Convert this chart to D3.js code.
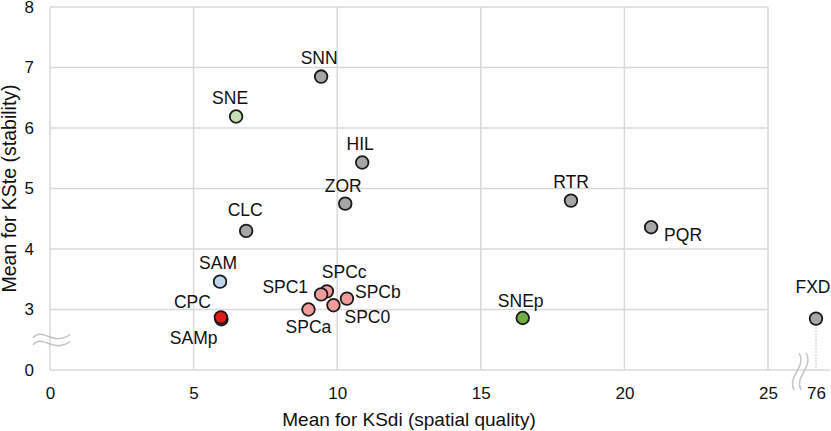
<!DOCTYPE html>
<html>
<head>
<meta charset="utf-8">
<script src="https://cdn.jsdelivr.net/npm/d3@7"></script>
<style>
  body { margin: 0; background: #fff; }
  text { font-family: "Liberation Sans", Arial, sans-serif; fill: #111; }
</style>
</head>
<body>
<svg></svg>
<script>
var w = 831;
var h = 431;

// data
var names  = ["SNN", "SNE", "HIL", "ZOR", "CLC", "RTR", "PQR", "SAM", "SAMp", "CPC", "SPCc", "SPC1", "SPCb", "SPC0", "SPCa", "SNEp", "FXD"];
var xVals  = [9.44, 6.48, 10.87, 10.28, 6.83, 18.14, 20.93, 5.92, 5.97, 5.95, 9.64, 9.44, 10.34, 9.87, 9.0, 16.46, 76];
var yVals  = [6.85, 6.19, 5.43, 4.75, 4.30, 4.80, 4.36, 3.46, 2.84, 2.87, 3.30, 3.25, 3.18, 3.07, 3.0, 2.86, 2.85];
var groups = ["other", "sne", "other", "other", "other", "other", "other", "sam", "red", "red", "spc", "spc", "spc", "spc", "spc", "snep", "other"];

var xTicks = [0, 5, 10, 15, 20, 25, 76];
var yTicks = [2, 3, 4, 5, 6, 7, 8]; // 2 is shown as "0" (broken axis)

var fills = {
  other: "#a6a6a6",
  sne: "#c5e0b4",
  snep: "#70ad47",
  sam: "#bdd7ee",
  red: "#e01b1b",
  spc: "#f19c9c"
};

// label placement: [anchor, dx, dy]
var labelPos = {
  SNN: ["middle", -2, -19], SNE: ["middle", -6, -19], HIL: ["middle", -2, -19],
  ZOR: ["middle", -2, -18], CLC: ["middle", -1, -21], RTR: ["middle", 0, -19],
  PQR: ["start", 13, 8], SAM: ["middle", -2, -19], CPC: ["end", -10, -15],
  SAMp: ["end", -4, 19], SPC1: ["end", -13, -8], SPCc: ["start", -5, -19],
  SPCb: ["start", 8, -7], SPC0: ["start", 11, 12], SPCa: ["middle", 0, 17],
  SNEp: ["middle", -2, -17], FXD: ["middle", -3, -32]
};

var data = names.map((n, i) => ({ name: n, x: xVals[i], y: yVals[i], g: groups[i] }));

var svg = d3.select("svg").attr("width", w).attr("height", h);

// broken x axis: 0..25 normal, then jump to 76
var x = d3.scaleLinear().domain([0, 25, 76]).range([50, 768, 816]);
var y = d3.scaleLinear().domain([2, 8]).range([370, 7]);

var grid = "#d9d9d9";

// gridlines
svg.append("g")
  .selectAll("line")
  .data(yTicks.slice(1))
  .enter()
  .append("line")
  .attr("x1", x(0)).attr("x2", x(25))
  .attr("y1", (d) => y(d)).attr("y2", (d) => y(d))
  .style("stroke", grid).style("stroke-width", 1.5);

svg.append("g")
  .selectAll("line")
  .data([5, 10, 15, 20, 25])
  .enter()
  .append("line")
  .attr("x1", (d) => x(d)).attr("x2", (d) => x(d))
  .attr("y1", y(8)).attr("y2", y(2))
  .style("stroke", grid).style("stroke-width", 1.5);

// axes
var xAxis = svg.append("g")
  .attr("transform", "translate(0," + y(2) + ")")
  .call(d3.axisBottom(x).tickValues(xTicks).tickSize(0).tickPadding(17));
xAxis.select(".domain").remove();
xAxis.append("line")
  .attr("x1", x(0)).attr("x2", 830)
  .style("stroke", grid).style("stroke-width", 1.5);

var yAxis = svg.append("g")
  .attr("transform", "translate(" + x(0) + ",0)")
  .call(d3.axisLeft(y).tickValues(yTicks).tickSize(0).tickPadding(16)
    .tickFormat((d) => (d === 2 ? "0" : d)));
yAxis.select(".domain").remove();
yAxis.append("line")
  .attr("y1", y(8)).attr("y2", y(2))
  .style("stroke", grid).style("stroke-width", 1.5);

svg.selectAll(".tick text")
  .style("font-size", "17px")
  .style("font-family", "Liberation Sans, Arial, sans-serif")
  .attr("fill", "#111");

// break marks
var brk = svg.append("g").style("fill", "none").style("stroke", "#c4c4c4").style("stroke-width", 1.5);
[0, 7].forEach((off) => {
  var cy = y(2.55) + off;
  brk.append("path")
    .attr("d", "M" + (x(0) - 17) + "," + (cy + 1) +
      " C" + (x(0) - 7) + "," + (cy - 10) + " " + (x(0) + 3) + "," + (cy + 10) + " " + (x(0) + 20) + "," + (cy - 2));
});
[0, 7].forEach((off) => {
  var cx = 796 + off;
  var y0 = y(2) - 17, y1 = y(2) + 20;
  brk.append("path")
    .attr("d", "M" + (cx + 3) + "," + y0 +
      " C" + (cx + 11) + "," + (y0 + 14) + " " + (cx - 9) + "," + (y1 - 14) + " " + (cx - 2) + "," + y1);
});

// dotted drop line for the far point
svg.append("line")
  .attr("x1", x(76)).attr("x2", x(76))
  .attr("y1", y(2.85)).attr("y2", y(2))
  .style("stroke", "#999").style("stroke-width", 1)
  .style("stroke-dasharray", "1,2");

// points
svg.append("g")
  .selectAll("circle")
  .data(data)
  .enter()
  .append("circle")
  .attr("cx", (d) => x(d.x))
  .attr("cy", (d) => y(d.y))
  .attr("r", 6.3)
  .style("fill", (d) => fills[d.g])
  .style("stroke", "#1a1a1a")
  .style("stroke-width", 1.8);

// labels
svg.append("g")
  .selectAll("text")
  .data(data)
  .enter()
  .append("text")
  .attr("x", (d) => x(d.x) + labelPos[d.name][1])
  .attr("y", (d) => y(d.y) + labelPos[d.name][2])
  .attr("dy", "0.35em")
  .attr("text-anchor", (d) => labelPos[d.name][0])
  .style("font-size", "17.5px")
  .text((d) => d.name);

// axis titles
svg.append("text")
  .attr("x", (x(0) + x(25)) / 2)
  .attr("y", 426)
  .attr("text-anchor", "middle")
  .style("font-size", "19px")
  .text("Mean for KSdi (spatial quality)");

svg.append("text")
  .attr("transform", "translate(16," + (y(2) + y(8)) / 2 + ") rotate(-90)")
  .attr("text-anchor", "middle")
  .style("font-size", "19.5px")
  .text("Mean for KSte (stability)");
</script>
</body>
</html>
